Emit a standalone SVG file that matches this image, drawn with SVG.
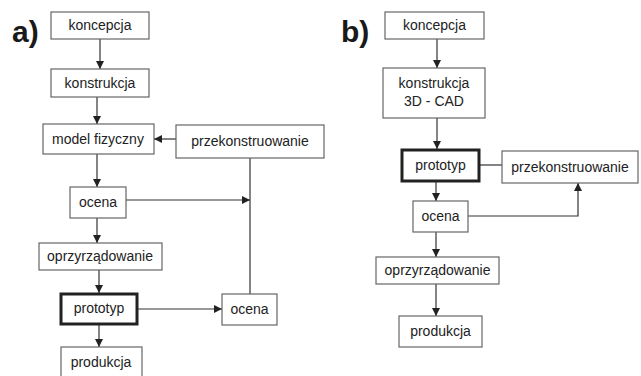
<svg xmlns="http://www.w3.org/2000/svg" width="641" height="376" viewBox="0 0 641 376">
<style>
  .box { fill: #ffffff; stroke: #666666; stroke-width: 1.2; }
  .thick { fill: #ffffff; stroke: #222222; stroke-width: 3; }
  .lbl { font-family: "Liberation Sans", Arial, sans-serif; font-size: 14px; fill: #222222; text-anchor: middle; }
  .tag { font-family: "Liberation Sans Narrow", "Liberation Sans", Arial, sans-serif; font-size: 30px; font-weight: bold; fill: #1a1a1a; }
  .conn line, .conn polyline { stroke: #333333; stroke-width: 1.2; fill: none; }
  .arr { marker-end: url(#ah); }
</style>
<defs>
  <marker id="ah" markerUnits="userSpaceOnUse" markerWidth="9" markerHeight="9" refX="8" refY="4" orient="auto">
    <path d="M0,0 L8,4 L0,8 Z" fill="#222222"/>
  </marker>
</defs>
<rect width="641" height="376" fill="#ffffff"/>

<text class="tag" x="12" y="42">a)</text>
<text class="tag" x="341" y="42">b)</text>

<g class="conn" id="connectors">
  <line class="arr" x1="100" y1="39" x2="100" y2="69"/>
  <line class="arr" x1="97" y1="97" x2="97" y2="124"/>
  <line class="arr" x1="176" y1="139" x2="154" y2="139"/>
  <line class="arr" x1="97" y1="154" x2="97" y2="187"/>
  <line class="arr" x1="126" y1="200" x2="250" y2="200"/>
  <line x1="250" y1="158" x2="250" y2="294"/>
  <line class="arr" x1="97" y1="218" x2="97" y2="243"/>
  <line class="arr" x1="99" y1="270" x2="99" y2="293"/>
  <line class="arr" x1="138" y1="309" x2="222" y2="309"/>
  <line class="arr" x1="99" y1="325" x2="99" y2="347"/>

  <line class="arr" x1="437" y1="39" x2="437" y2="68"/>
  <line class="arr" x1="437" y1="118" x2="437" y2="149"/>
  <line x1="480" y1="165" x2="502" y2="165"/>
  <line class="arr" x1="436" y1="182" x2="436" y2="201"/>
  <polyline class="arr" points="468,216 578,216 578,183"/>
  <line class="arr" x1="436" y1="232" x2="436" y2="257"/>
  <line class="arr" x1="436" y1="284" x2="436" y2="316"/>
</g>

<g id="a-koncepcja"><rect class="box" x="51" y="12" width="98" height="27"/><text class="lbl" x="100" y="30">koncepcja</text></g>
<g id="a-konstrukcja"><rect class="box" x="51" y="69" width="98" height="28"/><text class="lbl" x="100" y="88">konstrukcja</text></g>
<g id="a-model"><rect class="box" x="43" y="124" width="111" height="30"/><text class="lbl" x="98" y="144">model fizyczny</text></g>
<g id="a-przekonstruowanie"><rect class="box" x="176" y="125" width="148" height="33"/><text class="lbl" x="250" y="146">przekonstruowanie</text></g>
<g id="a-ocena1"><rect class="box" x="70" y="187" width="56" height="31"/><text class="lbl" x="98" y="207">ocena</text></g>
<g id="a-oprzyrzadowanie"><rect class="box" x="39" y="243" width="123" height="27"/><text class="lbl" x="100" y="261">oprzyrządowanie</text></g>
<g id="a-prototyp"><rect class="thick" x="61" y="294" width="76" height="30"/><text class="lbl" x="99" y="313">prototyp</text></g>
<g id="a-ocena2"><rect class="box" x="222" y="294" width="55" height="31"/><text class="lbl" x="249.500" y="314">ocena</text></g>
<g id="a-produkcja"><rect class="box" x="61" y="347" width="81" height="40"/><text class="lbl" x="101" y="367">produkcja</text></g>

<g id="b-koncepcja"><rect class="box" x="385" y="12" width="99" height="27"/><text class="lbl" x="434.500" y="30">koncepcja</text></g>
<g id="b-konstrukcja"><rect class="box" x="383" y="68" width="102" height="50"/><text class="lbl" x="434" y="88">konstrukcja</text><text class="lbl" x="434" y="106">3D - CAD</text></g>
<g id="b-prototyp"><rect class="thick" x="402" y="150" width="77" height="31"/><text class="lbl" x="440.500" y="170">prototyp</text></g>
<g id="b-przekonstruowanie"><rect class="box" x="502" y="151" width="136" height="32"/><text class="lbl" x="570" y="172">przekonstruowanie</text></g>
<g id="b-ocena"><rect class="box" x="413" y="201" width="55" height="31"/><text class="lbl" x="440.500" y="221">ocena</text></g>
<g id="b-oprzyrzadowanie"><rect class="box" x="376" y="257" width="123" height="27"/><text class="lbl" x="437.500" y="275">oprzyrządowanie</text></g>
<g id="b-produkcja"><rect class="box" x="399" y="316" width="83" height="31"/><text class="lbl" x="440.500" y="336">produkcja</text></g>
</svg>
